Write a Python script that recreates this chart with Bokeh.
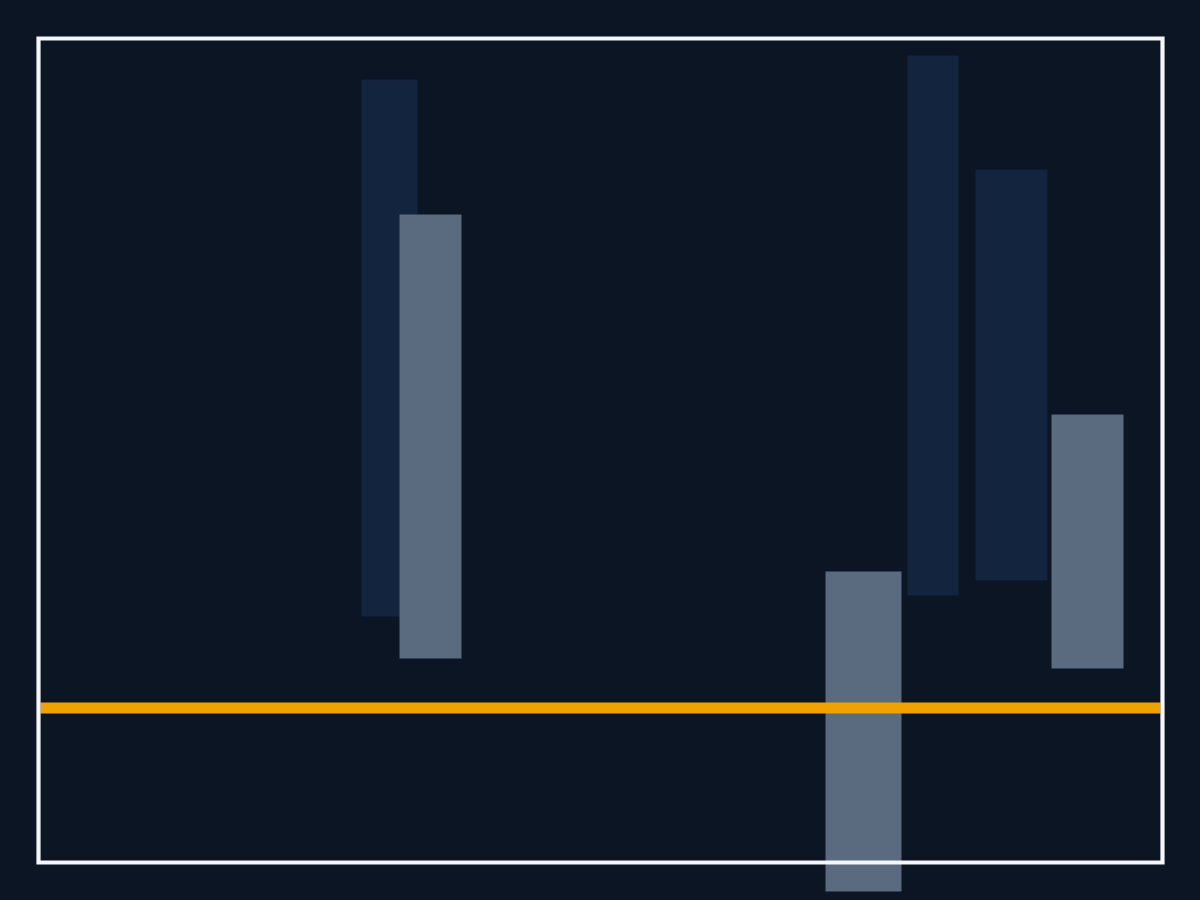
from bokeh.plotting import figure
from bokeh.models import Range1d, GlobalInlineStyleSheet
from bokeh.embed import file_html
from bokeh.resources import INLINE

# Floating bars: two series, each bar given by left/right edge and low/high value
back_left = [32.1, 86.7, 93.5]
back_right = [37.7, 91.8, 100.7]
back_low = [9.15, 11.25, 12.75]
back_high = [62.85, 65.25, 53.85]

front_left = [35.9, 78.5, 101.1]
front_right = [42.1, 86.1, 108.3]
front_low = [4.95, -18.35, 3.95]
front_high = [49.35, 13.65, 29.35]

baseline = 0.0

BG = "#0b1524"
BACK = "#12243e"
FRONT = "#5a6b80"
ORANGE = "#f0a202"
WHITE = "#f4f6f9"

p = figure(width=1200, height=900, x_range=Range1d(-4, 116), y_range=Range1d(-19.25, 70.75),
           x_axis_location=None, y_axis_location=None, min_border=0,
           toolbar_location=None, output_backend="svg",
           background_fill_color=BG, border_fill_color=BG, outline_line_color=None)
p.grid.visible = False
p.stylesheets = [GlobalInlineStyleSheet(css=f"html, body {{ margin: 0 !important; padding: 0; background: {BG}; overflow: hidden; }}")]

# back series first, front series drawn over it
p.quad(left=back_left, right=back_right, bottom=back_low, top=back_high,
       fill_color=BACK, line_color=None)
p.quad(left=front_left, right=front_right, bottom=front_low, top=front_high,
       fill_color=FRONT, line_color=None)

# baseline
p.segment(x0=[0], x1=[112], y0=[baseline], y1=[baseline],
          line_color=ORANGE, line_width=11, line_cap="butt")

# frame around the chart area
p.quad(left=[-0.2], right=[112.2], bottom=[-15.45], top=[66.95],
       fill_color=None, line_color=WHITE, line_width=4.2, line_join="miter")

open("out.html", "w").write(file_html(p, INLINE))
